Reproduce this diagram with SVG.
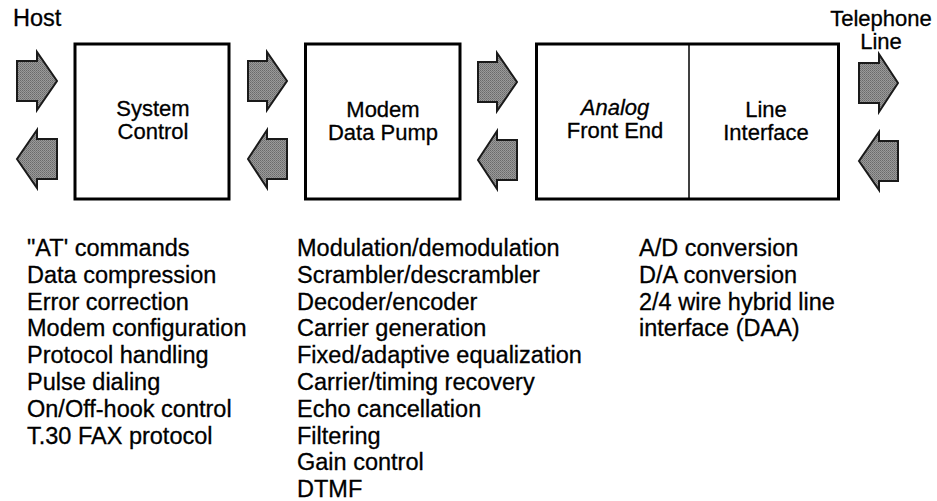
<svg xmlns="http://www.w3.org/2000/svg" width="937" height="501" viewBox="0 0 937 501">
<style>
text{font-family:"Liberation Sans",Arial,Helvetica,sans-serif;font-size:23.5px;fill:#000;stroke:#000;stroke-width:0.3}
.c{text-anchor:middle;font-size:22px}
.box{fill:#fff;stroke:#000;stroke-width:3}
.arr{fill:url(#stip);stroke:#1a1a1a;stroke-width:2;stroke-linejoin:miter}
</style>
<defs>
<pattern id="stip" width="2" height="2" patternUnits="userSpaceOnUse">
<rect width="2" height="2" fill="#9a9a9a"/>
<rect width="1" height="1" fill="#6a6a6a"/>
<rect x="1" y="1" width="1" height="1" fill="#7a7a7a"/>
</pattern>
</defs>
<rect width="937" height="501" fill="#fff"/>

<g id="host-label"><text x="13" y="26">Host</text></g>
<g id="telephone-label"><text class="c" x="881" y="26">Telephone</text><text class="c" x="881" y="49">Line</text></g>

<g id="system-control">
<rect class="box" x="75" y="44" width="154" height="155"/>
<text class="c" x="153" y="115.5">System</text>
<text class="c" x="153" y="138.5">Control</text>
</g>

<g id="modem-data-pump">
<rect class="box" x="305.5" y="44" width="154.5" height="155"/>
<text class="c" x="383" y="116.5">Modem</text>
<text class="c" x="383" y="139.5">Data Pump</text>
</g>

<g id="afe-line-interface">
<rect class="box" x="536.5" y="44" width="302" height="155"/>
<line x1="689" y1="44" x2="689" y2="199" stroke="#000" stroke-width="1.5"/>
<text class="c" x="615" y="114.5" font-style="italic">Analog</text>
<text class="c" x="615" y="137.5">Front End</text>
<text class="c" x="766" y="117">Line</text>
<text class="c" x="766" y="140">Interface</text>
</g>

<g id="connectors">
<polygon class="arr" points="17,61 37,61 37,52 57,81 37,110 37,101 17,101"/>
<polygon class="arr" points="57,139 37,139 37,130 17,159 37,188 37,179 57,179"/>
<polygon class="arr" points="248,61 267,61 267,52 287,81 267,110 267,101 248,101"/>
<polygon class="arr" points="287,139 267,139 267,130 248,159 267,188 267,179 287,179"/>
<polygon class="arr" points="478,62 497,62 497,53 517,82 497,111 497,102 478,102"/>
<polygon class="arr" points="517,140 497,140 497,131 478,160 497,189 497,180 517,180"/>
<polygon class="arr" points="859,63 879,63 879,54 898,83 879,112 879,103 859,103"/>
<polygon class="arr" points="898,141 879,141 879,132 859,161 879,190 879,181 898,181"/>
</g>

<g id="system-control-functions">
<text x="27" y="256">"AT' commands</text>
<text x="27" y="282.8">Data compression</text>
<text x="27" y="309.6">Error correction</text>
<text x="27" y="336.4">Modem configuration</text>
<text x="27" y="363.2">Protocol handling</text>
<text x="27" y="390">Pulse dialing</text>
<text x="27" y="416.8">On/Off-hook control</text>
<text x="27" y="443.6">T.30 FAX protocol</text>
</g>

<g id="data-pump-functions">
<text x="297" y="256">Modulation/demodulation</text>
<text x="297" y="282.8">Scrambler/descrambler</text>
<text x="297" y="309.6">Decoder/encoder</text>
<text x="297" y="336.4">Carrier generation</text>
<text x="297" y="363.2">Fixed/adaptive equalization</text>
<text x="297" y="390">Carrier/timing recovery</text>
<text x="297" y="416.8">Echo cancellation</text>
<text x="297" y="443.6">Filtering</text>
<text x="297" y="470.4">Gain control</text>
<text x="297" y="497.2">DTMF</text>
</g>

<g id="afe-functions">
<text x="639" y="256">A/D conversion</text>
<text x="639" y="282.8">D/A conversion</text>
<text x="639" y="309.6">2/4 wire hybrid line</text>
<text x="639" y="336.4">interface (DAA)</text>
</g>
</svg>
